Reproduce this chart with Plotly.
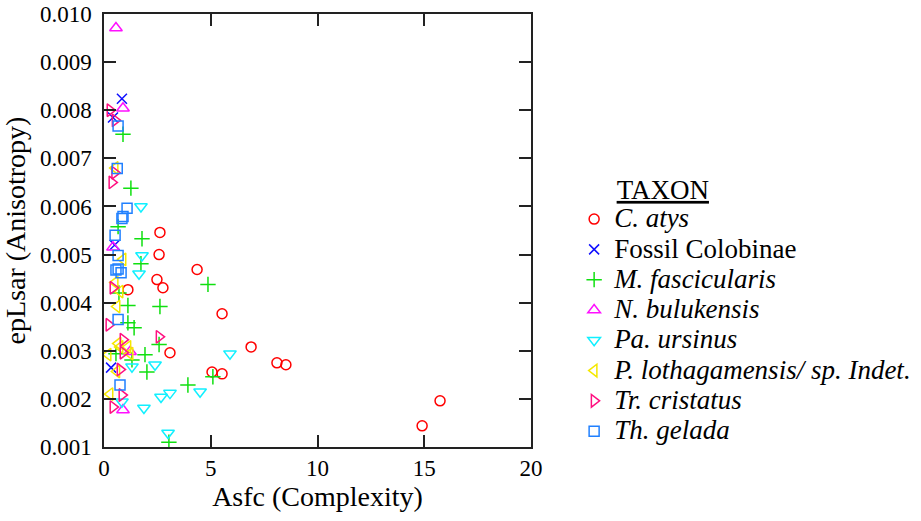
import plotly.graph_objects as go

# ---- data ----
c_atys_x = [2.62, 2.58, 4.36, 2.48, 2.76, 1.12, 5.53, 6.89, 3.09, 5.06, 5.53, 8.10, 8.52, 14.90, 15.74]
c_atys_y = [0.00546, 0.00500, 0.00469, 0.00448, 0.00431, 0.00427, 0.00377, 0.00308, 0.00296, 0.00256, 0.00252, 0.00275, 0.00271, 0.00144, 0.00196]

fossil_x = [0.84, 0.42, 0.50, 0.33]
fossil_y = [0.00824, 0.00785, 0.00520, 0.00265]

m_fasc_x = [0.89, 1.26, 0.66, 1.78, 1.73, 4.87, 2.62, 1.12, 1.12, 1.41, 0.70, 2.58, 0.56, 1.92, 1.31, 2.01, 3.93, 5.10, 3.04]
m_fasc_y = [0.00750, 0.00638, 0.00558, 0.00533, 0.00481, 0.00438, 0.00392, 0.00394, 0.00358, 0.00348, 0.00420, 0.00313, 0.00294, 0.00292, 0.00281, 0.00256, 0.00229, 0.00246, 0.00110]

n_bul_x = [0.56, 0.89, 0.42, 1.22, 0.89]
n_bul_y = [0.00971, 0.00804, 0.00515, 0.00298, 0.00177]

pa_urs_x = [1.73, 1.78, 1.64, 1.31, 2.39, 2.67, 3.09, 1.87, 0.84, 4.50, 3.00, 5.90]
pa_urs_y = [0.00600, 0.00498, 0.00460, 0.00267, 0.00271, 0.00204, 0.00212, 0.00181, 0.00194, 0.00215, 0.00129, 0.00294]

p_loth_x = [0.52, 0.89, 0.52, 0.75, 0.61, 0.19, 0.66, 1.22, 0.60, 0.28, 0.75, 1.12]
p_loth_y = [0.00680, 0.00490, 0.00442, 0.00423, 0.00392, 0.00292, 0.00315, 0.00294, 0.00257, 0.00210, 0.00308, 0.00308]

tr_cri_x = [0.28, 0.52, 0.50, 0.37, 0.42, 0.23, 0.89, 2.58, 0.89, 0.75, 0.84, 0.42]
tr_cri_y = [0.00800, 0.00779, 0.00670, 0.00650, 0.00431, 0.00354, 0.00323, 0.00329, 0.00296, 0.00261, 0.00208, 0.00183]

th_gel_x = [0.66, 0.62, 1.08, 0.89, 0.84, 0.52, 0.66, 0.66, 0.80, 0.56, 0.66, 0.75]
th_gel_y = [0.00767, 0.00679, 0.00596, 0.00579, 0.00575, 0.00540, 0.00498, 0.00470, 0.00462, 0.00468, 0.00365, 0.00229]

taxa = ["<i>C. atys</i>", "Fossil Colobinae", "<i>M. fascicularis</i>", "<i>N. bulukensis</i>",
        "<i>Pa. ursinus</i>", "<i>P. lothagamensis/ sp. Indet.</i>", "<i>Tr. cristatus</i>", "<i>Th. gelada</i>"]
xs_all = [c_atys_x, fossil_x, m_fasc_x, n_bul_x, pa_urs_x, p_loth_x, tr_cri_x, th_gel_x]
ys_all = [c_atys_y, fossil_y, m_fasc_y, n_bul_y, pa_urs_y, p_loth_y, tr_cri_y, th_gel_y]

symbols = ["circle-open", "x-thin-open", "cross-thin-open", "triangle-up-open",
           "triangle-down-open", "triangle-left-open", "triangle-right-open", "square-open"]
colors = ["#ff0000", "#1010ff", "#10e010", "#ff10ff", "#10f0ff", "#f5e800", "#ff1080", "#2080ff"]
sizes = [10, 10, 11, 11, 11, 11, 11, 10]

fig = go.Figure()
for name, xs, ys, sym, col, sz in zip(taxa, xs_all, ys_all, symbols, colors, sizes):
    fig.add_trace(go.Scatter(
        x=xs, y=ys, mode="markers",
        name='<span style="font-size:27px">' + name + '</span>',
        marker=dict(symbol=sym, size=sz, color=col, line=dict(width=1.5, color=col)),
    ))

serif = "Liberation Serif"
axis_common = dict(
    showline=True, linecolor="#222", linewidth=1.5, mirror="ticks",
    ticks="inside", ticklen=12, tickwidth=1.5, tickcolor="#222",
    showgrid=False, zeroline=False, automargin=False, ticklabeloverflow="allow",
    tickfont=dict(family=serif, size=23, color="black"),
)
fig.update_xaxes(range=[0, 20], dtick=5, tick0=0,
                 title=dict(text="Asfc (Complexity)", font=dict(family=serif, size=28, color="black"), standoff=5),
                 **axis_common)
fig.update_yaxes(range=[0.001, 0.010], dtick=0.001, tick0=0.001, tickformat=".3f",
                 title=dict(text="epLsar (Anisotropy)", font=dict(family=serif, size=28, color="black")),
                 ticklabelstandoff=6,
                 **axis_common)

fig.update_layout(
    width=921, height=521,
    margin=dict(l=104, r=390, t=14, b=74, autoexpand=False),
    plot_bgcolor="white", paper_bgcolor="white",
    font=dict(family=serif, color="black"),
    legend=dict(
        x=1.101, y=0.654, xanchor="left", yanchor="top",
        font=dict(family=serif, size=21, color="black"),
        title=dict(text="&nbsp;&nbsp;&nbsp;&nbsp;&nbsp;&nbsp;<u>TAXON</u>",
                   font=dict(family=serif, size=27, color="black")),
        bgcolor="rgba(0,0,0,0)", borderwidth=0,
    ),
)

# remove the default 8px page margin so the figure fills the window exactly
fig.write_html("out.html", config={"displayModeBar": False},
               post_script="document.body.style.margin='0';")
